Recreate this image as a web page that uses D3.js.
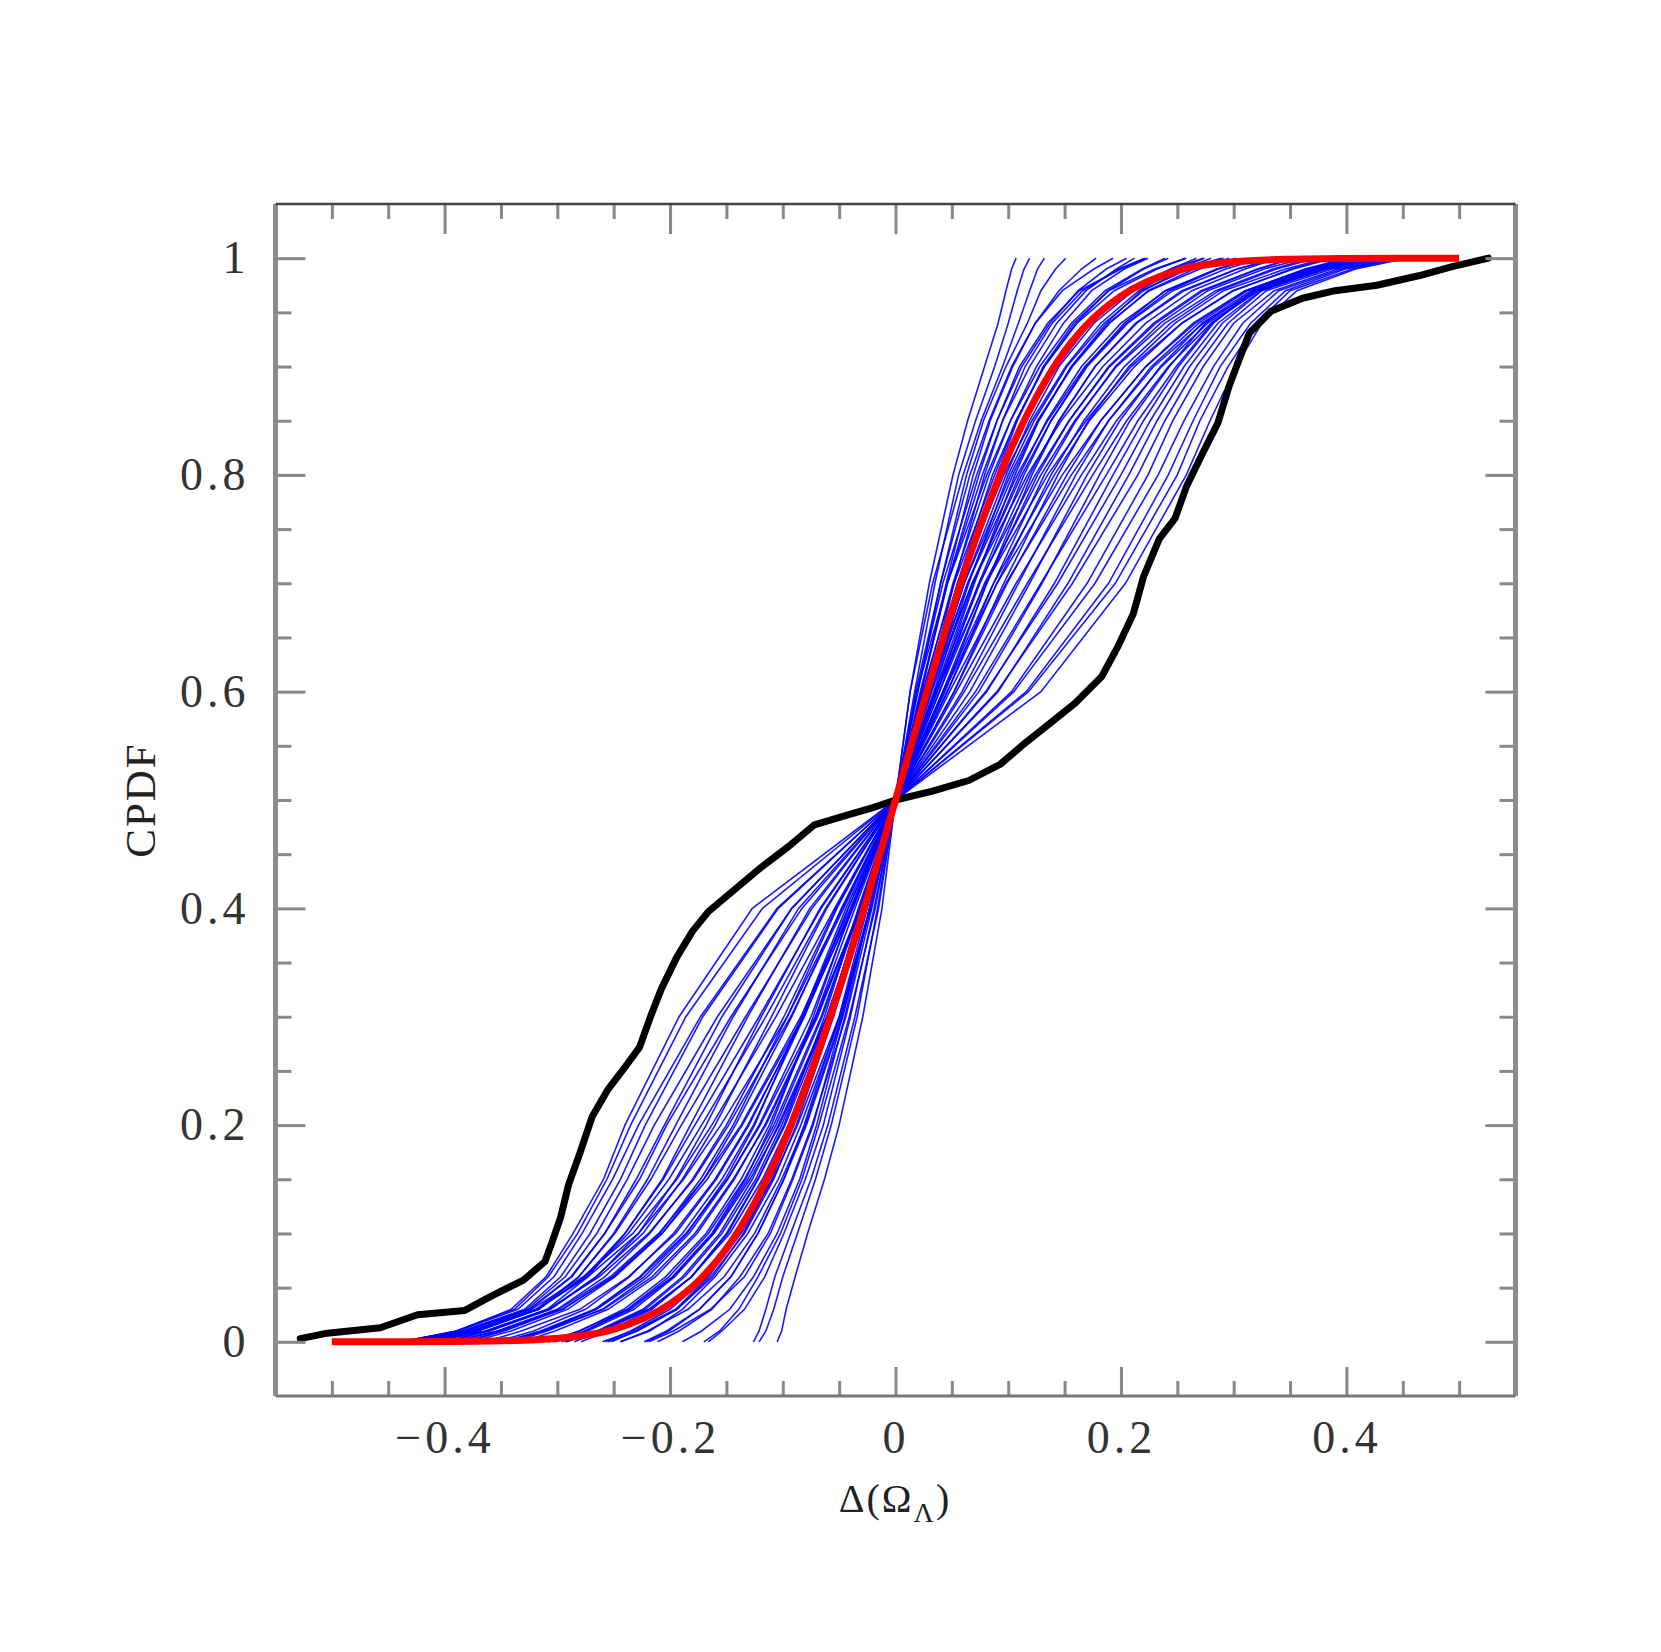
<!DOCTYPE html>
<html>
<head>
<meta charset="utf-8">
<script src="https://cdn.jsdelivr.net/npm/d3@7"></script>
<style>
  body { margin: 0; background: #fff; }
  svg { display: block; }
</style>
</head>
<body>
<svg id="chart" width="1661" height="1652"></svg>
<script>
// tick values
var xMajor = [-0.4, -0.2, 0, 0.2, 0.4];
var xMinor = [-0.5, -0.45, -0.35, -0.3, -0.25, -0.15, -0.1, -0.05, 0.05, 0.1, 0.15, 0.25, 0.3, 0.35, 0.45, 0.5];
var yMajor = [0, 0.2, 0.4, 0.6, 0.8, 1];
var yMinor = [0.05, 0.1, 0.15, 0.25, 0.3, 0.35, 0.45, 0.5, 0.55, 0.65, 0.7, 0.75, 0.85, 0.9, 0.95];

// mock catalogues: x of each curve at these CPDF levels
var blueLevels = [0, 0.01, 0.03, 0.06, 0.1, 0.15, 0.2, 0.3, 0.4, 0.5, 0.6, 0.7, 0.8, 0.85, 0.9, 0.94, 0.97, 0.99, 1];
var blueRuns = [
  [-0.105,-0.101,-0.097,-0.089,-0.078,-0.063,-0.050,-0.029,-0.012,0,0.013,0.030,0.051,0.064,0.079,0.091,0.098,0.103,0.107],
  [-0.126,-0.121,-0.115,-0.107,-0.093,-0.075,-0.060,-0.036,-0.015,0,0.017,0.035,0.056,0.071,0.088,0.100,0.108,0.114,0.119],
  [-0.121,-0.115,-0.108,-0.100,-0.087,-0.071,-0.057,-0.034,-0.016,0,0.013,0.033,0.060,0.076,0.095,0.109,0.119,0.126,0.132],
  [-0.170,-0.156,-0.139,-0.122,-0.102,-0.083,-0.068,-0.041,-0.018,0,0.020,0.040,0.063,0.078,0.098,0.117,0.129,0.142,0.151],
  [-0.166,-0.154,-0.134,-0.116,-0.099,-0.080,-0.064,-0.040,-0.019,0,0.018,0.040,0.066,0.083,0.103,0.124,0.145,0.165,0.178],
  [-0.211,-0.192,-0.163,-0.138,-0.113,-0.092,-0.074,-0.044,-0.021,0,0.023,0.045,0.069,0.084,0.104,0.124,0.148,0.176,0.193],
  [-0.189,-0.172,-0.147,-0.126,-0.105,-0.085,-0.070,-0.045,-0.023,0,0.019,0.042,0.072,0.090,0.112,0.137,0.162,0.187,0.205],
  [-0.221,-0.201,-0.174,-0.146,-0.122,-0.099,-0.079,-0.047,-0.023,0,0.023,0.046,0.074,0.090,0.110,0.135,0.163,0.200,0.222],
  [-0.219,-0.197,-0.164,-0.134,-0.111,-0.091,-0.073,-0.047,-0.023,0,0.022,0.046,0.077,0.095,0.119,0.143,0.169,0.196,0.212],
  [-0.244,-0.218,-0.189,-0.160,-0.131,-0.104,-0.084,-0.049,-0.023,0,0.028,0.052,0.079,0.095,0.115,0.139,0.166,0.198,0.221],
  [-0.223,-0.203,-0.174,-0.146,-0.122,-0.099,-0.081,-0.050,-0.025,0,0.019,0.046,0.081,0.102,0.128,0.156,0.186,0.219,0.239],
  [-0.255,-0.229,-0.194,-0.164,-0.134,-0.108,-0.088,-0.055,-0.026,0,0.025,0.051,0.083,0.102,0.125,0.149,0.174,0.203,0.224],
  [-0.244,-0.220,-0.184,-0.152,-0.125,-0.101,-0.080,-0.048,-0.022,0,0.028,0.055,0.086,0.107,0.132,0.161,0.194,0.232,0.258],
  [-0.260,-0.233,-0.195,-0.166,-0.138,-0.113,-0.093,-0.059,-0.030,0,0.024,0.052,0.088,0.107,0.132,0.160,0.189,0.220,0.242],
  [-0.257,-0.235,-0.200,-0.167,-0.137,-0.109,-0.087,-0.050,-0.022,0,0.032,0.060,0.090,0.108,0.131,0.158,0.189,0.230,0.257],
  [-0.279,-0.255,-0.216,-0.181,-0.150,-0.122,-0.098,-0.060,-0.029,0,0.027,0.055,0.092,0.115,0.143,0.173,0.207,0.244,0.267],
  [-0.252,-0.230,-0.194,-0.162,-0.135,-0.110,-0.090,-0.059,-0.031,0,0.030,0.059,0.094,0.115,0.141,0.172,0.207,0.244,0.273],
  [-0.293,-0.263,-0.222,-0.187,-0.154,-0.124,-0.101,-0.061,-0.028,0,0.025,0.056,0.096,0.121,0.151,0.182,0.216,0.250,0.274],
  [-0.285,-0.261,-0.219,-0.181,-0.147,-0.118,-0.095,-0.059,-0.029,0,0.030,0.061,0.098,0.119,0.145,0.176,0.211,0.255,0.289],
  [-0.296,-0.265,-0.224,-0.189,-0.156,-0.127,-0.104,-0.061,-0.028,0,0.034,0.065,0.100,0.123,0.152,0.185,0.220,0.255,0.280],
  [-0.292,-0.262,-0.218,-0.181,-0.149,-0.122,-0.099,-0.063,-0.033,0,0.029,0.061,0.102,0.126,0.157,0.190,0.224,0.265,0.296],
  [-0.302,-0.275,-0.238,-0.201,-0.166,-0.134,-0.108,-0.066,-0.032,0,0.031,0.064,0.104,0.127,0.156,0.187,0.218,0.260,0.291],
  [-0.304,-0.273,-0.232,-0.196,-0.161,-0.129,-0.103,-0.060,-0.027,0,0.037,0.070,0.106,0.127,0.156,0.189,0.225,0.270,0.302],
  [-0.308,-0.280,-0.241,-0.204,-0.168,-0.137,-0.112,-0.071,-0.036,0,0.029,0.064,0.108,0.135,0.168,0.205,0.243,0.286,0.319],
  [-0.302,-0.276,-0.235,-0.197,-0.162,-0.131,-0.106,-0.065,-0.031,0,0.035,0.069,0.110,0.134,0.165,0.200,0.240,0.286,0.319],
  [-0.331,-0.302,-0.255,-0.213,-0.176,-0.143,-0.116,-0.070,-0.031,0,0.032,0.068,0.112,0.138,0.170,0.206,0.246,0.293,0.325],
  [-0.308,-0.281,-0.237,-0.198,-0.163,-0.133,-0.110,-0.073,-0.039,0,0.039,0.074,0.114,0.138,0.169,0.203,0.239,0.285,0.319],
  [-0.339,-0.309,-0.260,-0.220,-0.183,-0.149,-0.121,-0.075,-0.038,0,0.030,0.068,0.117,0.147,0.184,0.222,0.263,0.310,0.339],
  [-0.345,-0.311,-0.259,-0.216,-0.178,-0.144,-0.115,-0.069,-0.032,0,0.037,0.075,0.119,0.145,0.177,0.214,0.256,0.303,0.339],
  [-0.347,-0.315,-0.267,-0.227,-0.189,-0.154,-0.126,-0.081,-0.042,0,0.044,0.081,0.121,0.145,0.177,0.213,0.254,0.303,0.339],
  [-0.348,-0.312,-0.266,-0.226,-0.186,-0.149,-0.120,-0.071,-0.031,0,0.035,0.074,0.124,0.154,0.190,0.231,0.273,0.322,0.353],
  [-0.354,-0.321,-0.275,-0.236,-0.197,-0.160,-0.131,-0.081,-0.039,0,0.042,0.081,0.126,0.154,0.189,0.229,0.271,0.321,0.353],
  [-0.350,-0.313,-0.265,-0.223,-0.185,-0.151,-0.125,-0.083,-0.044,0,0.039,0.079,0.129,0.159,0.196,0.239,0.284,0.335,0.368],
  [-0.381,-0.347,-0.296,-0.250,-0.207,-0.167,-0.136,-0.082,-0.038,0,0.046,0.087,0.132,0.160,0.195,0.235,0.277,0.327,0.363],
  [-0.364,-0.332,-0.280,-0.237,-0.195,-0.159,-0.130,-0.082,-0.042,0,0.036,0.080,0.135,0.169,0.209,0.254,0.300,0.351,0.385],
  [-0.376,-0.341,-0.291,-0.249,-0.207,-0.170,-0.142,-0.092,-0.048,0,0.046,0.090,0.138,0.167,0.203,0.244,0.287,0.338,0.373],
  [-0.384,-0.349,-0.299,-0.253,-0.210,-0.170,-0.137,-0.084,-0.040,0,0.042,0.087,0.141,0.172,0.212,0.254,0.299,0.353,0.388],
  [-0.400,-0.363,-0.308,-0.263,-0.219,-0.179,-0.148,-0.093,-0.046,0,0.052,0.096,0.144,0.171,0.207,0.248,0.291,0.346,0.382],
  [-0.396,-0.353,-0.295,-0.251,-0.209,-0.173,-0.144,-0.096,-0.052,0,0.043,0.090,0.148,0.182,0.222,0.266,0.311,0.363,0.400],
  [-0.411,-0.372,-0.318,-0.273,-0.228,-0.188,-0.155,-0.096,-0.047,0,0.052,0.099,0.152,0.182,0.222,0.264,0.310,0.365,0.403],
  [-0.390,-0.353,-0.300,-0.258,-0.218,-0.180,-0.150,-0.099,-0.053,0,0.048,0.098,0.156,0.189,0.229,0.273,0.320,0.374,0.413],
  [-0.416,-0.375,-0.323,-0.277,-0.233,-0.194,-0.163,-0.106,-0.054,0,0.059,0.109,0.160,0.189,0.227,0.269,0.312,0.368,0.408],
  [-0.400,-0.360,-0.307,-0.266,-0.224,-0.189,-0.160,-0.110,-0.061,0,0.054,0.107,0.165,0.196,0.236,0.277,0.322,0.380,0.421],
  [-0.413,-0.370,-0.318,-0.275,-0.237,-0.201,-0.172,-0.115,-0.062,0,0.066,0.119,0.170,0.199,0.235,0.272,0.315,0.366,0.408],
  [-0.412,-0.361,-0.306,-0.265,-0.228,-0.195,-0.168,-0.119,-0.067,0,0.061,0.117,0.175,0.205,0.242,0.280,0.322,0.376,0.420],
  [-0.418,-0.374,-0.317,-0.276,-0.240,-0.206,-0.178,-0.121,-0.066,0,0.074,0.130,0.181,0.208,0.243,0.275,0.317,0.371,0.416],
  [-0.419,-0.364,-0.309,-0.273,-0.240,-0.207,-0.182,-0.131,-0.076,0,0.071,0.129,0.187,0.215,0.249,0.281,0.318,0.374,0.430],
  [-0.428,-0.376,-0.319,-0.281,-0.249,-0.217,-0.190,-0.133,-0.074,0,0.081,0.141,0.193,0.220,0.251,0.282,0.318,0.371,0.425],
  [-0.429,-0.371,-0.316,-0.281,-0.250,-0.220,-0.195,-0.144,-0.086,0,0.080,0.144,0.200,0.226,0.256,0.286,0.324,0.380,0.430],
  [-0.426,-0.382,-0.325,-0.288,-0.258,-0.227,-0.203,-0.146,-0.083,0,0.091,0.153,0.207,0.232,0.261,0.290,0.325,0.383,0.435],
  [-0.431,-0.379,-0.324,-0.287,-0.258,-0.230,-0.205,-0.154,-0.092,0,0.090,0.157,0.215,0.239,0.267,0.295,0.329,0.387,0.441],
  [-0.439,-0.385,-0.327,-0.293,-0.265,-0.238,-0.214,-0.158,-0.092,0,0.103,0.170,0.224,0.246,0.273,0.300,0.336,0.392,0.448],
  [-0.433,-0.382,-0.329,-0.297,-0.271,-0.244,-0.222,-0.171,-0.104,0,0.105,0.177,0.233,0.256,0.282,0.308,0.340,0.396,0.447],
  [-0.438,-0.388,-0.335,-0.303,-0.278,-0.251,-0.228,-0.173,-0.105,0,0.116,0.189,0.242,0.264,0.288,0.315,0.346,0.399,0.450],
  [-0.437,-0.390,-0.338,-0.308,-0.282,-0.256,-0.235,-0.186,-0.118,0,0.118,0.195,0.250,0.270,0.295,0.320,0.350,0.405,0.450],
  [-0.439,-0.389,-0.341,-0.310,-0.286,-0.259,-0.240,-0.192,-0.127,0,0.129,0.204,0.258,0.279,0.302,0.325,0.356,0.408,0.454]
];

// observed sample
var blackX = [-0.528, -0.504, -0.457, -0.424, -0.382, -0.359, -0.330, -0.311, -0.305, -0.297, -0.290, -0.280,
  -0.269, -0.255, -0.241, -0.227, -0.217, -0.208, -0.194, -0.180, -0.166, -0.142, -0.119, -0.095, -0.072,
  -0.043, -0.020, 0, 0.032, 0.065, 0.093, 0.112, 0.136, 0.159, 0.183, 0.197, 0.211, 0.220, 0.234, 0.248,
  0.258, 0.272, 0.286, 0.296, 0.305, 0.314, 0.333, 0.361, 0.390, 0.427, 0.465, 0.493, 0.526];
var blackY = [0.003, 0.008, 0.013, 0.025, 0.029, 0.042, 0.057, 0.074, 0.091, 0.115, 0.145, 0.174,
  0.208, 0.233, 0.252, 0.272, 0.301, 0.325, 0.355, 0.379, 0.397, 0.418, 0.438, 0.457, 0.477,
  0.486, 0.493, 0.5, 0.508, 0.518, 0.533, 0.550, 0.570, 0.589, 0.614, 0.641, 0.672, 0.706, 0.741, 0.760,
  0.789, 0.819, 0.848, 0.882, 0.907, 0.931, 0.951, 0.963, 0.970, 0.975, 0.984, 0.992, 1.0];

// expected distribution
var redX = [-0.5, -0.45, -0.4, -0.35, -0.3, -0.25, -0.2, -0.175, -0.15, -0.125, -0.1, -0.075, -0.05, -0.025, 0,
  0.025, 0.05, 0.075, 0.1, 0.125, 0.15, 0.175, 0.2, 0.25, 0.3, 0.35, 0.4, 0.45, 0.5];
var redY = [0.0, 0.0001, 0.0003, 0.0009, 0.0033, 0.0115, 0.035, 0.056, 0.086, 0.128, 0.182, 0.248, 0.325, 0.41, 0.5,
  0.59, 0.675, 0.752, 0.818, 0.872, 0.914, 0.944, 0.965, 0.9885, 0.9967, 0.9991, 0.9998, 1.0, 1.0];

var plotL = 275.5, plotR = 1515.5, plotT = 204, plotB = 1396;

var svg = d3.select('#chart');

var x = d3.scaleLinear().domain([-0.55, 0.55]).range([plotL, plotR]);
var y = d3.scaleLinear().domain([-0.05, 1.05]).range([plotB, plotT]);

var fmt = function(d) { return d3.format('.1~f')(d); };

var line = d3.line()
    .x(function(d) { return x(d[0]); })
    .y(function(d) { return y(d[1]); });

// blue runs
svg.append('g').selectAll('path.run')
    .data(blueRuns)
    .enter()
    .append('path')
    .attr('class', 'run')
    .attr('d', function(run) {
        return line(run.map(function(v, i) { return [v, blueLevels[i]]; }));
    })
    .attr('fill', 'none')
    .attr('stroke', '#0000ff')
    .attr('stroke-width', 1.6)
    .attr('stroke-opacity', 0.9);

svg.append('path')
    .attr('d', line(blackX.map(function(v, i) { return [v, blackY[i]]; })))
    .attr('fill', 'none')
    .attr('stroke', '#000')
    .attr('stroke-width', 7)
    .attr('stroke-linejoin', 'round')
    .attr('stroke-linecap', 'round');

var redLine = d3.line()
    .x(function(d) { return x(d[0]); })
    .y(function(d) { return y(d[1]); })
    .curve(d3.curveMonotoneX);

svg.append('path')
    .attr('d', redLine(redX.map(function(v, i) { return [v, redY[i]]; })))
    .attr('fill', 'none')
    .attr('stroke', '#ff0000')
    .attr('stroke-width', 7);

// ticks on all four sides, pointing inward
var tickColor = '#888';
var addAxis = function(axis, tx, ty) {
    var g = svg.append('g').attr('transform', 'translate(' + tx + ',' + ty + ')').call(axis);
    g.select('.domain').remove();
    g.selectAll('line').attr('stroke', tickColor).attr('stroke-width', 3);
    return g;
};

addAxis(d3.axisBottom(x).tickValues(xMinor).tickSize(-15).tickFormat(''), 0, plotB);
addAxis(d3.axisTop(x).tickValues(xMinor).tickSize(-15).tickFormat(''), 0, plotT);
addAxis(d3.axisTop(x).tickValues(xMajor).tickSize(-30).tickFormat(''), 0, plotT);
addAxis(d3.axisLeft(y).tickValues(yMinor).tickSize(-16).tickFormat(''), plotL, 0);
addAxis(d3.axisRight(y).tickValues(yMinor).tickSize(-16).tickFormat(''), plotR, 0);
addAxis(d3.axisRight(y).tickValues(yMajor).tickSize(-30).tickFormat(''), plotR, 0);

var xg = addAxis(d3.axisBottom(x).tickValues(xMajor).tickSize(-29).tickPadding(24).tickFormat(fmt), 0, plotB);
xg.selectAll('text')
    .attr('font-family', 'Liberation Serif, DejaVu Serif, serif')
    .attr('font-size', 46)
    .attr('letter-spacing', 4)
    .attr('fill', '#333');

var yg = addAxis(d3.axisLeft(y).tickValues(yMajor).tickSize(-30).tickPadding(26).tickFormat(fmt), plotL, 0);
yg.selectAll('text')
    .attr('font-family', 'Liberation Serif, DejaVu Serif, serif')
    .attr('font-size', 46)
    .attr('letter-spacing', 4)
    .attr('fill', '#333');

// frame
svg.append('line').attr('x1', plotL).attr('x2', plotL).attr('y1', plotT).attr('y2', plotB)
    .attr('stroke', '#8c8c8c').attr('stroke-width', 5);
svg.append('line').attr('x1', plotR).attr('x2', plotR).attr('y1', plotT).attr('y2', plotB)
    .attr('stroke', '#8c8c8c').attr('stroke-width', 5);
svg.append('line').attr('x1', plotL).attr('x2', plotR).attr('y1', plotT).attr('y2', plotT)
    .attr('stroke', '#444').attr('stroke-width', 2.5);
svg.append('line').attr('x1', plotL).attr('x2', plotR).attr('y1', plotB).attr('y2', plotB)
    .attr('stroke', '#777').attr('stroke-width', 3);

// axis titles
var xt = svg.append('text')
    .attr('x', 895)
    .attr('y', 1512)
    .attr('text-anchor', 'middle')
    .attr('font-family', 'Liberation Serif, DejaVu Serif, serif')
    .attr('font-size', 40)
    .attr('letter-spacing', 2)
    .attr('fill', '#222');
xt.append('tspan').text('\u0394(\u03A9');
xt.append('tspan').attr('font-size', 28).attr('dy', 10).text('\u039B');
xt.append('tspan').attr('dy', -10).text(')');

svg.append('text')
    .attr('transform', 'translate(155,800) rotate(-90)')
    .attr('text-anchor', 'middle')
    .attr('font-family', 'Liberation Serif, DejaVu Serif, serif')
    .attr('font-size', 43)
    .attr('letter-spacing', 2)
    .attr('fill', '#222')
    .text('CPDF');
</script>
</body>
</html>
